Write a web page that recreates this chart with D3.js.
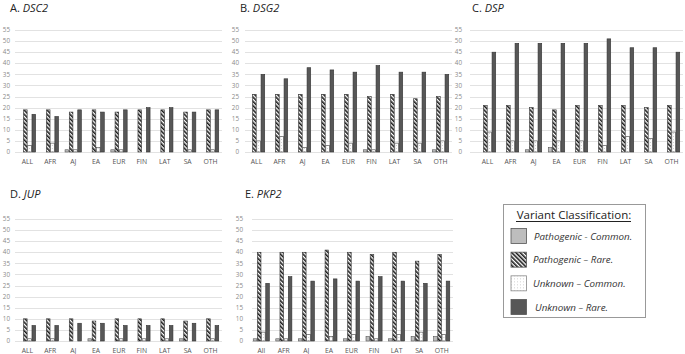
<!DOCTYPE html>
<html>
<head>
<meta charset="utf-8">
<script src="https://cdn.jsdelivr.net/npm/d3@7"></script>
<style>
  body { margin: 0; background: #fff; }
  svg { font-family: "Open Sans", "Liberation Sans", sans-serif; }
</style>
</head>
<body>
<div id="chart"></div>
<script>
// categories and series
const categories = ["ALL", "AFR", "AJ", "EA", "EUR", "FIN", "LAT", "SA", "OTH"];
const categoriesE = ["All", "AFR", "AJ", "EA", "EUR", "FIN", "LAT", "SA", "OTH"];
const seriesNames = ["Pathogenic - Common.", "Pathogenic \u2013 Rare.", "Unknown \u2013 Common.", "Unknown \u2013 Rare."];
const yTicks = [0, 5, 10, 15, 20, 25, 30, 35, 40, 45, 50, 55];

// values per category: [path-common, path-rare, unknown-common, unknown-rare]
const dsc2 = [[0,19,3,17],[0,19,4,16],[1,18,1,19],[0,19,2,18],[1,18,1,19],[0,19,0,20],[0,19,0,20],[0,18,1,18],[0,19,1,19]];
const dsg2 = [[0,26,5,35],[0,26,7,33],[0,26,2,38],[0,26,3,37],[0,26,4,36],[1,25,1,39],[0,26,4,36],[0,24,4,36],[1,25,5,35]];
const dsp  = [[0,21,9,45],[0,21,5,49],[1,20,5,49],[2,19,5,49],[0,21,5,49],[0,21,3,51],[0,21,7,47],[0,20,6,47],[0,21,9,45]];
const jup  = [[0,10,1,7],[0,10,1,7],[0,10,0,8],[1,9,0,8],[0,10,1,7],[0,10,1,7],[0,10,1,7],[1,9,0,8],[0,10,1,7]];
const pkp2 = [[1,40,4,26],[1,40,1,29],[1,40,3,27],[0,41,2,28],[1,40,3,27],[2,39,1,29],[1,40,3,27],[2,36,4,26],[2,39,3,27]];

const panels = [
  {letter: "A. ", gene: "DSC2", data: dsc2, cats: categories, tx: 10, ty: 12, gx0: 15, gx1: 222, bx0: 16, bx1: 222, yTop: 30, yBot: 152, lx: 10},
  {letter: "B. ", gene: "DSG2", data: dsg2, cats: categories, tx: 240, ty: 12, gx0: 245, gx1: 452, bx0: 245, bx1: 452, yTop: 30, yBot: 152, lx: 239},
  {letter: "C. ", gene: "DSP",  data: dsp,  cats: categories, tx: 472, ty: 12, gx0: 470, gx1: 683, bx0: 476, bx1: 683, yTop: 30, yBot: 152, lx: 462},
  {letter: "D. ", gene: "JUP",  data: jup,  cats: categories, tx: 10, ty: 198, gx0: 15, gx1: 222, bx0: 16, bx1: 222, yTop: 219, yBot: 341, lx: 10},
  {letter: "E. ", gene: "PKP2", data: pkp2, cats: categoriesE, tx: 245, ty: 198, gx0: 252, gx1: 453, bx0: 250, bx1: 453, yTop: 219, yBot: 341, lx: 243}
];

const W = 685, H = 354;
const svg = d3.select("#chart").append("svg").attr("width", W).attr("height", H);

const defs = svg.append("defs");
// hatched: "\" diagonal stripes
const hatch = defs.append("pattern").attr("id", "hatch").attr("patternUnits", "userSpaceOnUse")
  .attr("width", 3).attr("height", 3).attr("patternTransform", "rotate(-45)");
hatch.append("rect").attr("width", 3).attr("height", 3).attr("fill", "#fff");
hatch.append("rect").attr("width", 1.6).attr("height", 3).attr("fill", "#1a1a1a");
// dotted
const dots = defs.append("pattern").attr("id", "dots").attr("patternUnits", "userSpaceOnUse")
  .attr("width", 3).attr("height", 3);
dots.append("rect").attr("width", 3).attr("height", 3).attr("fill", "#fff");
dots.append("circle").attr("cx", 1.5).attr("cy", 1.5).attr("r", 0.4).attr("fill", "#999");

const fills = ["#bdbdbd", "url(#hatch)", "url(#dots)", "#575757"];
const strokes = ["#555", "#333", "#444", "#333"];

panels.forEach(p => {
  const g = svg.append("g");

  const t = g.append("text").attr("x", p.tx).attr("y", p.ty)
    .attr("font-size", 11).attr("fill", "#222");
  t.append("tspan").text(p.letter);
  t.append("tspan").attr("font-style", "italic").text(p.gene);

  const y = d3.scaleLinear().domain([0, 55]).range([p.yBot, p.yTop]);
  const x = d3.scaleBand().domain(p.cats).range([p.bx0, p.bx1]).paddingInner(0.26).paddingOuter(0.13);
  const xs = d3.scaleBand().domain(d3.range(4)).range([0, x.bandwidth()]);

  g.selectAll(".grid").data(yTicks).join("line")
    .attr("x1", p.gx0).attr("x2", p.gx1)
    .attr("y1", d => Math.round(y(d)) + 0.5).attr("y2", d => Math.round(y(d)) + 0.5)
    .attr("stroke", "#dadada").attr("stroke-width", 0.8);

  g.selectAll(".ytl").data(yTicks).join("text")
    .attr("x", p.lx).attr("y", d => y(d) + 2.2)
    .attr("text-anchor", "end").attr("font-size", 6.3).attr("fill", "#8a8a8a")
    .text(d => d);

  g.selectAll(".xtl").data(p.cats).join("text")
    .attr("x", d => x(d) + x.bandwidth() / 2).attr("y", p.yBot + 11.5)
    .attr("text-anchor", "middle").attr("font-size", 6.8).attr("fill", "#555")
    .text(d => d);

  const groups = g.selectAll(".grp").data(p.data).join("g")
    .attr("transform", (d, i) => `translate(${x(p.cats[i])},0)`);

  groups.selectAll("rect").data(d => d.map((v, k) => ({v, k}))).join("rect")
    .filter(d => d.v > 0)
    .attr("x", d => xs(d.k) + 0.3)
    .attr("width", xs.bandwidth() - 0.6)
    .attr("y", d => y(d.v))
    .attr("height", d => y(0) - y(d.v))
    .attr("fill", d => fills[d.k])
    .attr("stroke", d => strokes[d.k])
    .attr("stroke-width", 0.6);
});

// legend
const lg = svg.append("g");
lg.append("rect").attr("x", 503.5).attr("y", 204.5).attr("width", 142).attr("height", 113)
  .attr("fill", "#fff").attr("stroke", "#999").attr("stroke-width", 1);
lg.append("text").attr("x", 574).attr("y", 219).attr("text-anchor", "middle")
  .attr("font-size", 11.5).attr("fill", "#222").text("Variant Classification:");
lg.append("line").attr("x1", 516).attr("x2", 631).attr("y1", 221.5).attr("y2", 221.5)
  .attr("stroke", "#222").attr("stroke-width", 1);

const rowY = d3.scalePoint().domain(d3.range(4)).range([236, 307]);
const rows = lg.selectAll(".row").data(seriesNames).join("g")
  .attr("transform", (d, i) => `translate(0,${rowY(i)})`);
rows.append("rect").attr("x", 511).attr("y", -7.5).attr("width", 15.5).attr("height", 15)
  .attr("fill", (d, i) => fills[i]).attr("stroke", (d, i) => i === 2 ? "#888" : "#555").attr("stroke-width", 0.8);
rows.append("text").attr("x", (d, i) => i === 0 ? 534 : (i === 3 ? 535 : 533)).attr("y", 3.5)
  .attr("font-size", 9.8).attr("font-style", "italic").attr("fill", "#333")
  .text(d => d);
</script>
</body>
</html>
